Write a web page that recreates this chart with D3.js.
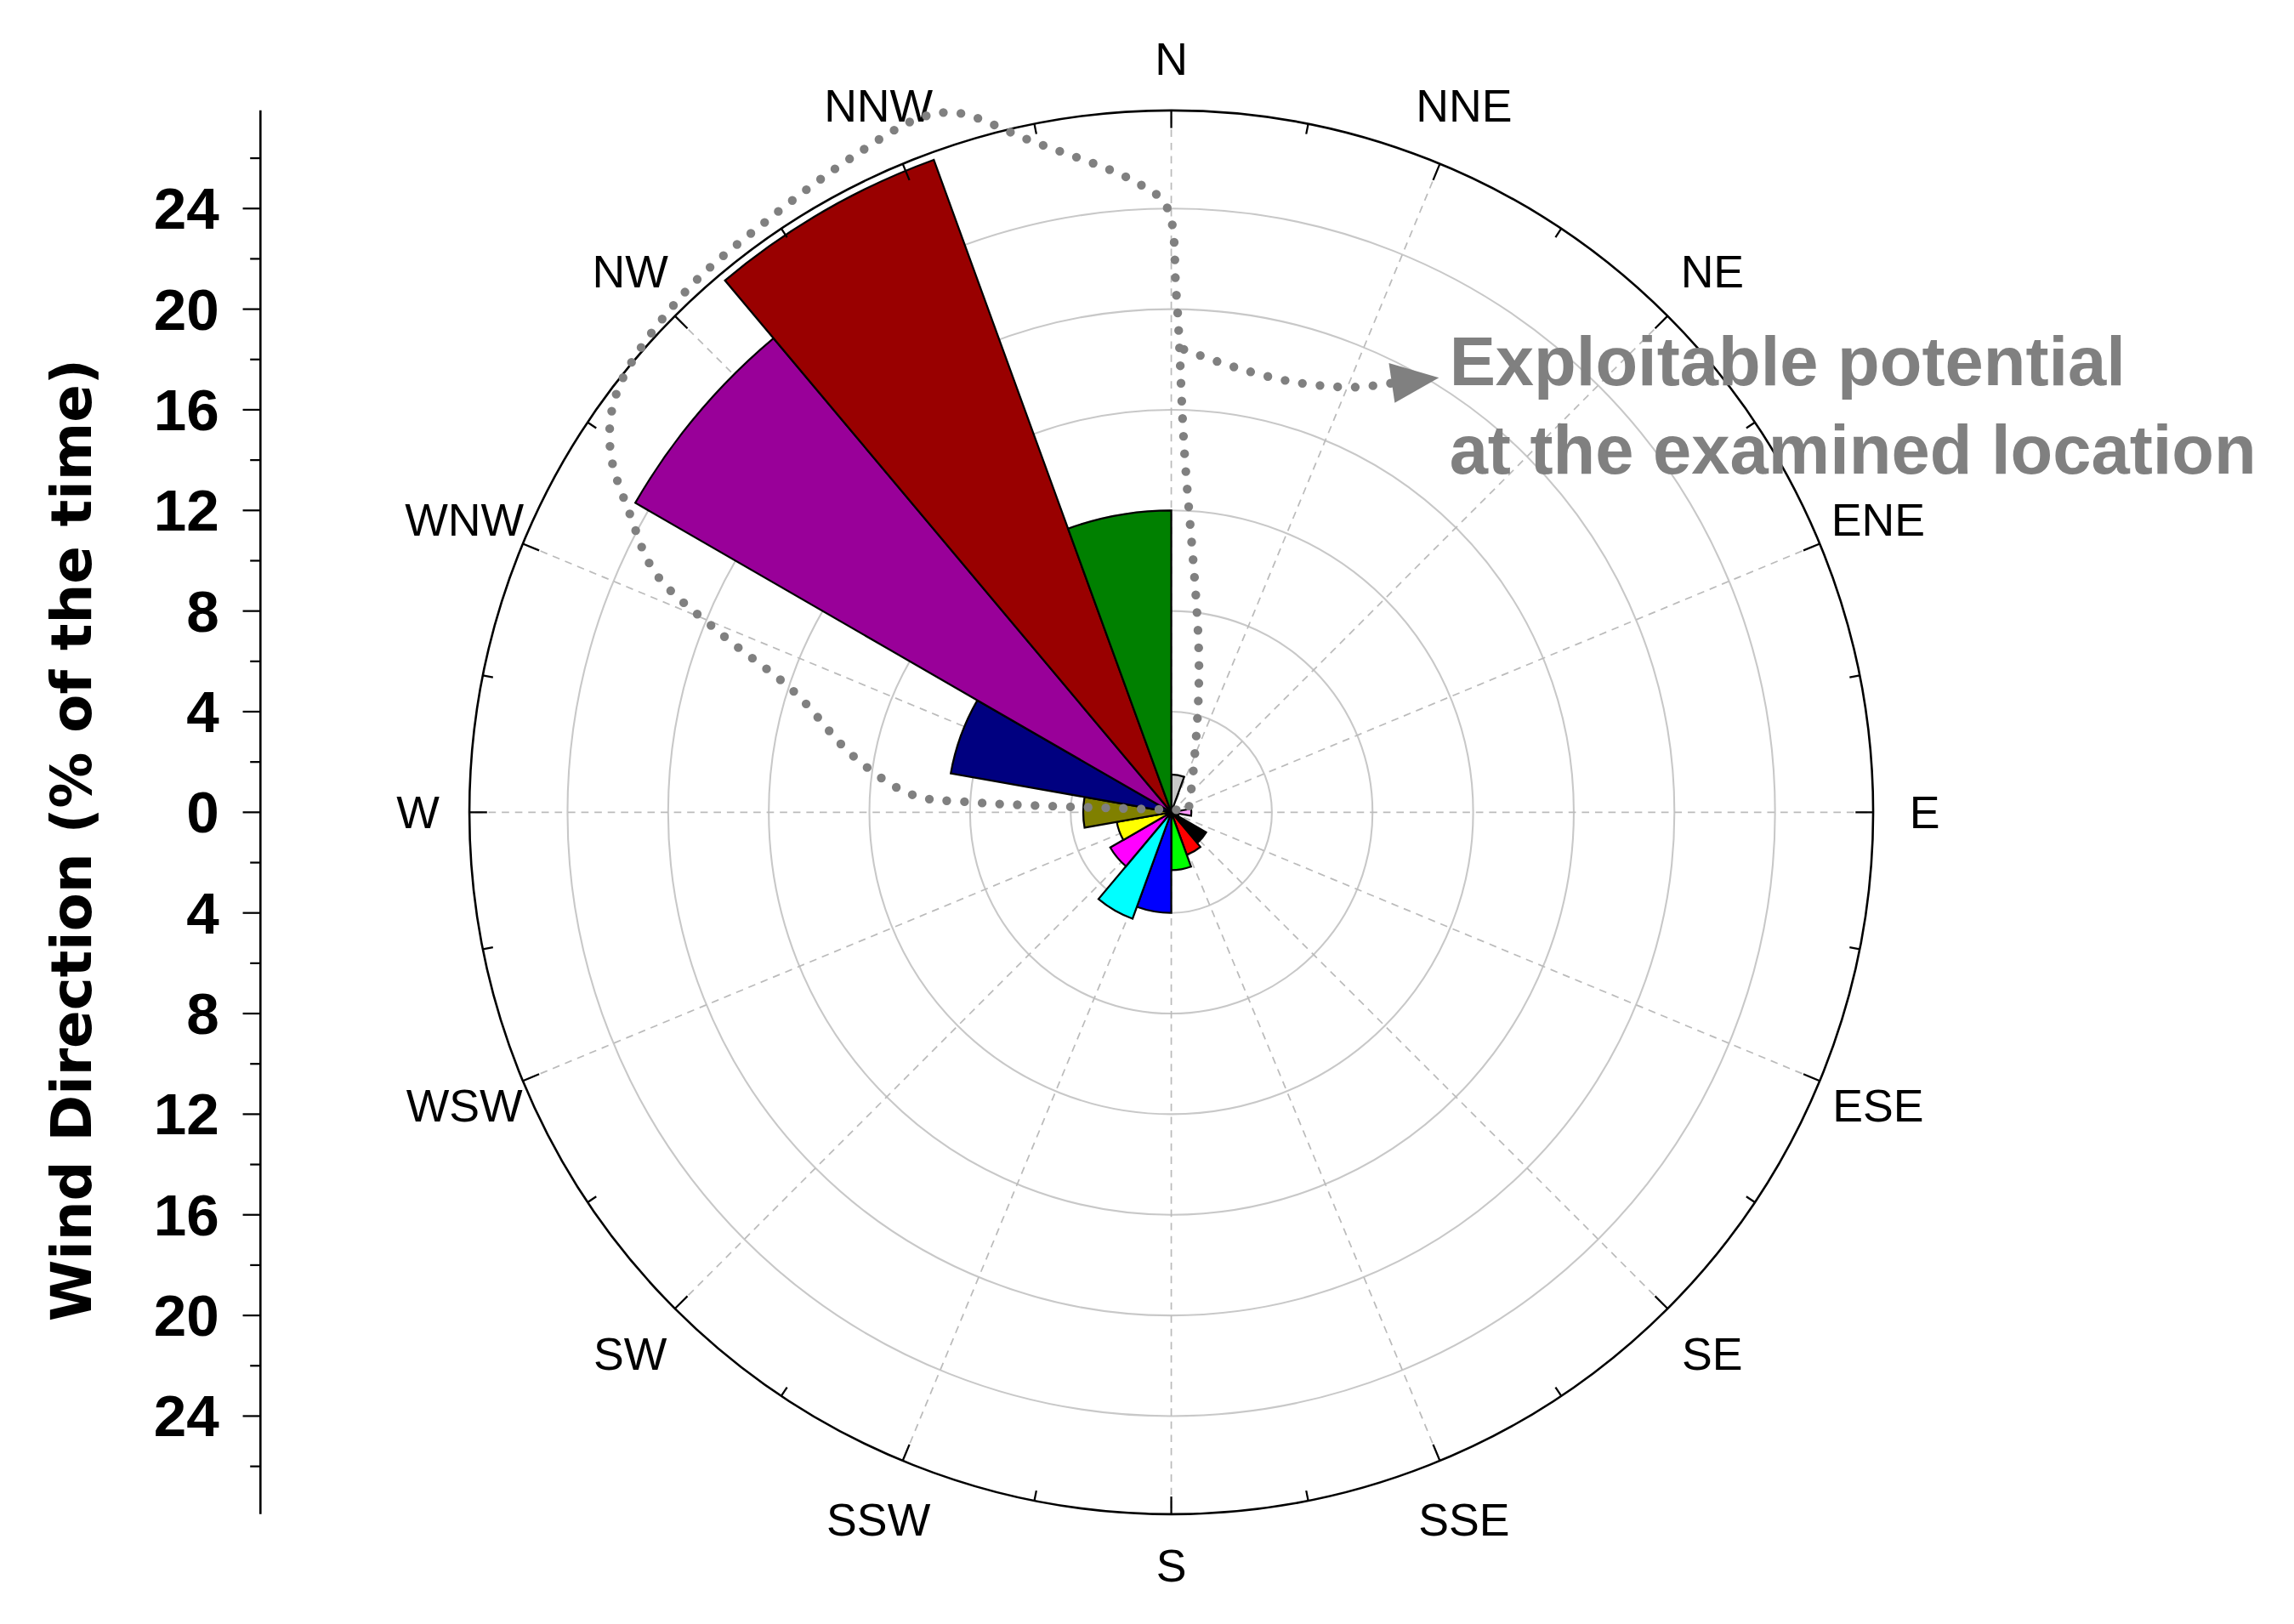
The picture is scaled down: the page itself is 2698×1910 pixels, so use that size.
<!DOCTYPE html>
<html>
<head>
<meta charset="utf-8">
<script src="https://cdn.jsdelivr.net/npm/d3@7"></script>
<style>
  body { margin: 0; background: #fff; }
  svg { display: block; font-family: "Liberation Sans", Arial, sans-serif; }
</style>
</head>
<body>
<svg id="chart" width="2698" height="1910" viewBox="0 0 1559 1103.6"></svg>
<script>
// sector start angles (deg clockwise from N), each 20 deg wide
const sectorStarts = [0, 20, 40, 60, 80, 100, 120, 140, 160, 180, 200, 220, 240, 260, 280, 300, 320, 340];
const sectorValues = [1.5, 0.2, 0.2, 0.2, 0.8, 0.3, 1.6, 1.8, 2.3, 4.0, 4.5, 2.8, 2.2, 3.5, 8.9, 24.6, 27.6, 12];
const sectorColors = ["#c8c8c8", "#c8c8c8", "#c8c8c8", "#c8c8c8", "#ff99ff", "#333333", "#000000", "#ff0000",
  "#00ff00", "#0000ff", "#00ffff", "#ff00ff", "#ffff00", "#808000", "#000080", "#990099", "#990000", "#008000"];
const dirLabels = ["N", "NNE", "NE", "ENE", "E", "ESE", "SE", "SSE", "S", "SSW", "SW", "WSW", "W", "WNW", "NW", "NNW"];
const ringValues = [4, 8, 12, 16, 20, 24];
const axisTicks = [-24, -20, -16, -12, -8, -4, 0, 4, 8, 12, 16, 20, 24];
// dotted annotation outline, in data units (x east, y north)
const outlineX = [0.2, -7.95, -10.3, -12.6, -15, -17.9, -20.5, -21.5, -22.3, -22, -19.4, -16.1, -12.6, -10, -8.5, -5.6, -1.5, -0.2, 0.2, 0.5, 1.1, 0.9, 0.7];
const outlineY = [0.1, 0.4, 0.7, 2.2, 4.8, 7.1, 9.5, 11.8, 14.4, 16.8, 20.6, 23.5, 26.1, 27.6, 27.8, 26.7, 25.1, 24.1, 20.6, 14.7, 6, 1.9, 0.2];
const arrowX = [0.5, 2.5, 4.9, 7.3, 9.0];
const arrowY = [18.4, 17.7, 17.1, 16.9, 17.1];

const svg = d3.select("#chart");
const cx = 796, cy = 552;
const maxVal = 27.9;
const r = d3.scaleLinear().domain([0, maxVal]).range([0, 477]);
const rad = d => (d - 90) * Math.PI / 180;
const g = svg.append("g").attr("transform", `translate(${cx},${cy})`);

// rings
g.selectAll(".ring").data(ringValues).join("circle")
  .attr("r", d => r(d)).attr("fill", "none").attr("stroke", "#c8c8c8").attr("stroke-width", 1.2);

// spokes
d3.range(16).forEach(i => {
  const a = rad(i * 22.5);
  g.append("line").attr("x1", 0).attr("y1", 0)
    .attr("x2", r(maxVal) * Math.cos(a)).attr("y2", r(maxVal) * Math.sin(a))
    .attr("stroke", "#bbbbbb").attr("stroke-width", 1).attr("stroke-dasharray", "5,4");
});

// sectors
const arc = d3.arc().innerRadius(0);
g.selectAll(".sector").data(sectorValues).join("path")
  .attr("d", (d, i) => arc({ outerRadius: r(d), startAngle: sectorStarts[i] * Math.PI / 180, endAngle: (sectorStarts[i] + 20) * Math.PI / 180 }))
  .attr("fill", (d, i) => sectorColors[i]).attr("stroke", "#000").attr("stroke-width", 1.3);

// outer circle and ticks
g.append("circle").attr("r", r(maxVal)).attr("fill", "none").attr("stroke", "#000").attr("stroke-width", 1.5);
d3.range(32).forEach(i => {
  const a = rad(i * 11.25), len = i % 2 ? 7 : 12;
  g.append("line")
    .attr("x1", (r(maxVal) - len) * Math.cos(a)).attr("y1", (r(maxVal) - len) * Math.sin(a))
    .attr("x2", r(maxVal) * Math.cos(a)).attr("y2", r(maxVal) * Math.sin(a))
    .attr("stroke", "#000").attr("stroke-width", 1.3);
});

// direction labels
dirLabels.forEach((lab, i) => {
  const a = rad(i * 22.5);
  const lr = i % 4 === 0 ? 512 : 520;
  g.append("text").attr("x", lr * Math.cos(a)).attr("y", lr * Math.sin(a))
    .attr("text-anchor", "middle").attr("dominant-baseline", "central")
    .attr("font-size", 31).text(lab);
});

// dotted outline and arrow
const xy = d3.scaleLinear().domain([0, maxVal]).range([0, 477]);
const line = d3.line().x(d => xy(d[0])).y(d => -xy(d[1])).curve(d3.curveCatmullRom);
g.append("path").attr("d", line(outlineX.map((x, i) => [x, outlineY[i]])))
  .attr("fill", "none").attr("stroke", "#808080").attr("stroke-width", 6)
  .attr("stroke-linecap", "round").attr("stroke-dasharray", "0,12");
g.append("path").attr("d", line(arrowX.map((x, i) => [x, arrowY[i]])))
  .attr("fill", "none").attr("stroke", "#808080").attr("stroke-width", 6)
  .attr("stroke-linecap", "round").attr("stroke-dasharray", "0,12");
const hx = xy(9.0), hy = -xy(17.1);
g.append("path").attr("d", `M${hx - 6},${hy - 13} L${hx + 28},${hy - 3} L${hx - 2},${hy + 14} Z`)
  .attr("fill", "#808080");

// annotation
svg.append("text").attr("x", 985).attr("y", 262).attr("font-size", 47).attr("font-weight", "bold")
  .attr("fill", "#808080").text("Exploitable potential");
svg.append("text").attr("x", 985).attr("y", 322).attr("font-size", 47).attr("font-weight", "bold")
  .attr("fill", "#808080").text("at the examined location");

// left axis
const y = d3.scaleLinear().domain([-maxVal, maxVal]).range([cy + 477, cy - 477]);
const ax = svg.append("g").attr("transform", "translate(177,0)");
ax.append("line").attr("y1", y(maxVal)).attr("y2", y(-maxVal)).attr("stroke", "#000").attr("stroke-width", 1.5);
d3.range(-26, 27, 2).forEach(v => {
  const major = v % 4 === 0;
  ax.append("line").attr("x1", major ? -12 : -7).attr("x2", 0).attr("y1", y(v)).attr("y2", y(v))
    .attr("stroke", "#000").attr("stroke-width", 1.3);
});
ax.selectAll(".tl").data(axisTicks).join("text")
  .attr("x", -28).attr("y", d => y(d)).attr("text-anchor", "end").attr("dominant-baseline", "central")
  .attr("font-size", 40).attr("font-weight", "bold").text(d => Math.abs(d));
svg.append("text").attr("transform", "translate(62,571) rotate(-90)").attr("text-anchor", "middle")
  .attr("font-family", "'DejaVu Sans', sans-serif")
  .attr("font-size", 38).attr("font-weight", "bold").text("Wind Direction (% of the time)");
</script>
</body>
</html>
